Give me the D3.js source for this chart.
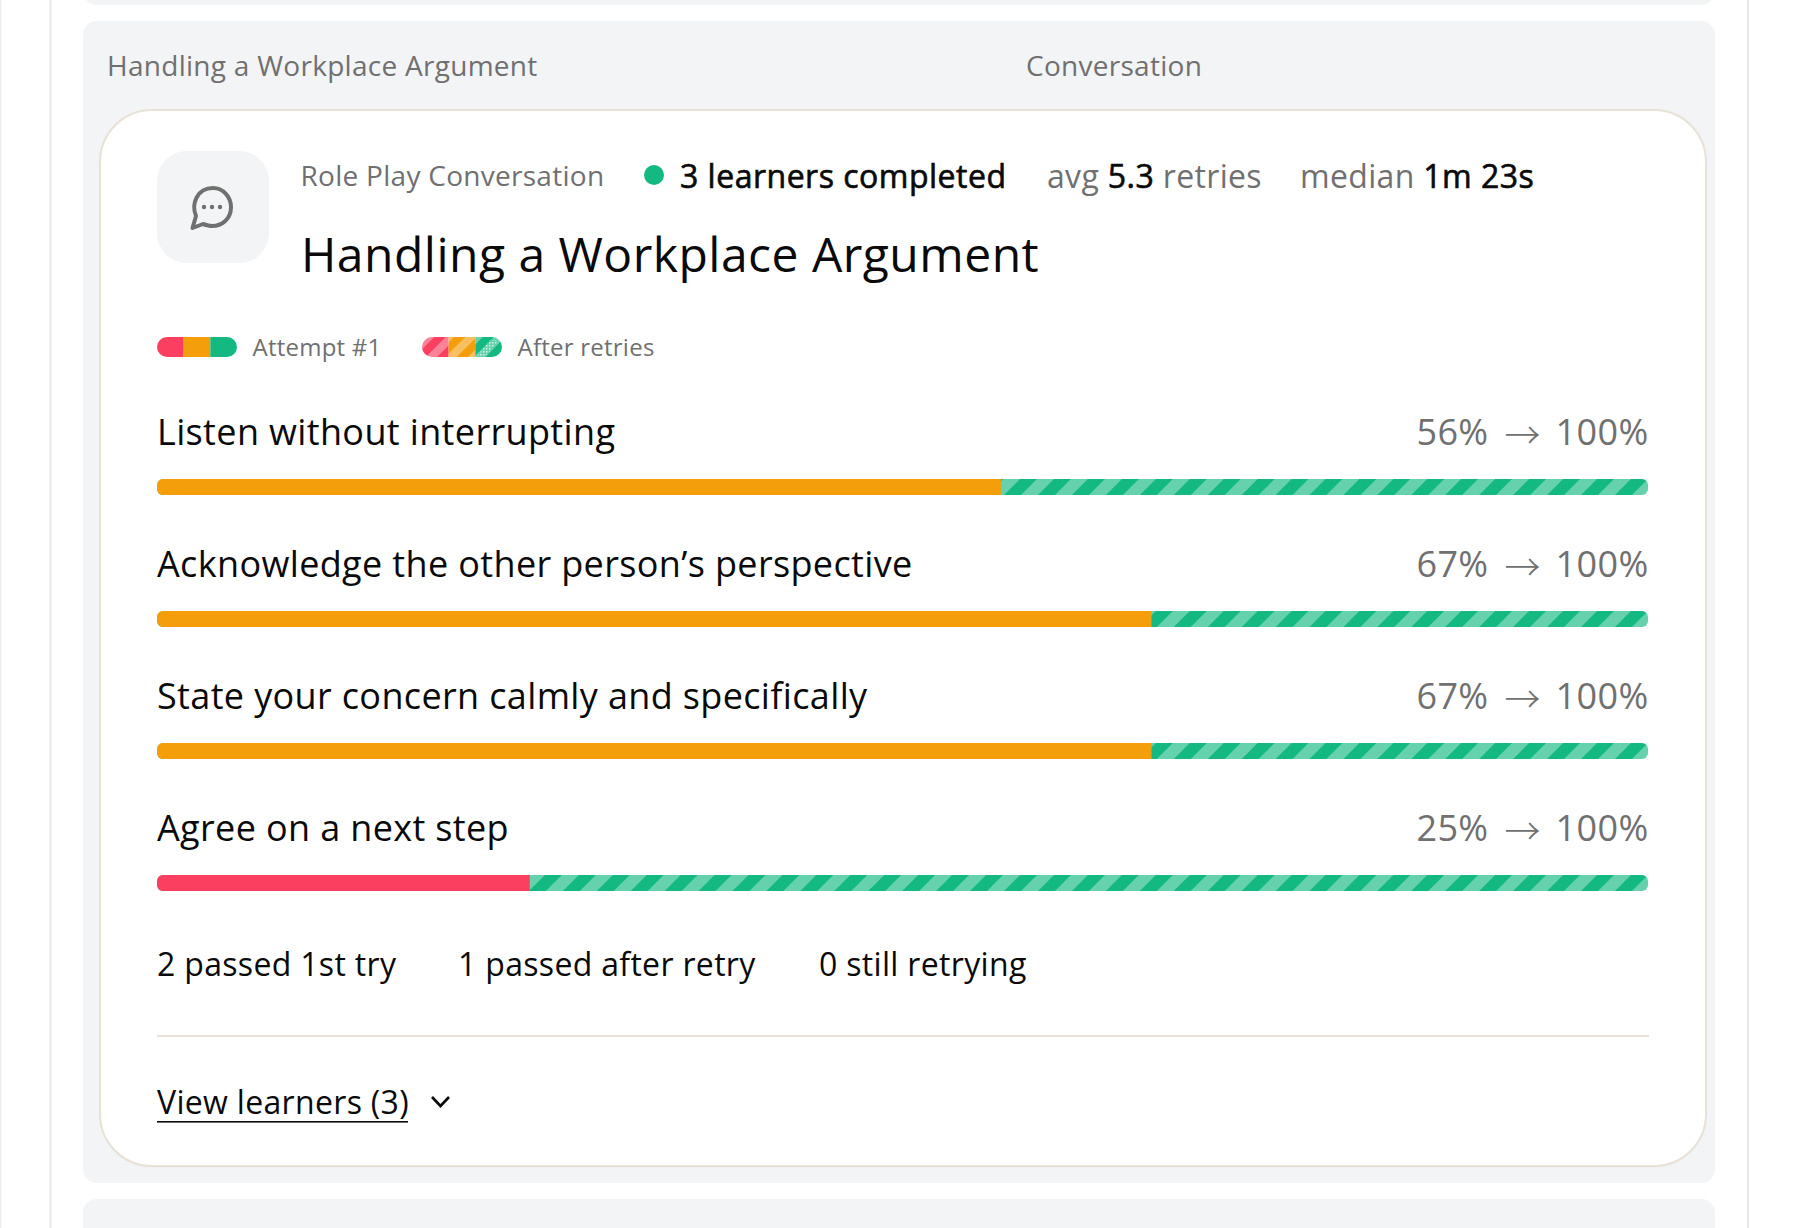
<!DOCTYPE html>
<html><head><meta charset="utf-8">
<script src="https://cdn.jsdelivr.net/npm/d3@7"></script>
<style>html,body{margin:0;padding:0;background:#fff;overflow:hidden}svg{display:block}text{font-family:"Open Sans",sans-serif;letter-spacing:.01em}.m{stroke:#0a0a0a;stroke-width:.65px;fill:#0a0a0a;letter-spacing:.5px}</style>
</head><body><div id="c"></div>
<script>
const skills=["Listen without interrupting","Acknowledge the other person’s perspective","State your concern calmly and specifically","Agree on a next step"];
const firstAttempt=[56.6,66.7,66.7,25];
const firstLabels=["56%","67%","67%","25%"];
const afterRetries=[100,100,100,100];
const afterLabels=["100%","100%","100%","100%"];
const bands=["mid","mid","mid","fail"];
const legendParts=["fail","mid","pass"];
const legendPhase=[15,8,10];
const footer=["2 passed 1st try","1 passed after retry","0 still retrying"];
const palette={fail:"#fa3f60",mid:"#f59e0b",pass:"#14b981"};
const W=1798,H=1228;
const svg=d3.select("#c").append("svg").attr("width",W).attr("height",H);
const defs=svg.append("defs");
function stripe(id,c,band,x0,y0){const period=band*2;const p=defs.append("pattern").attr("id",id).attr("patternUnits","userSpaceOnUse")
 .attr("width",period).attr("height",period).attr("patternTransform",`translate(${x0},${y0}) rotate(45)`);
 p.append("rect").attr("width",period).attr("height",period).attr("fill",c);
 p.append("rect").attr("x",band).attr("width",band).attr("height",period).attr("fill","#fff").attr("fill-opacity",.35);}
const grey="#707070",ink="#0a0a0a",panel="#f3f4f6",line="#e8e1d6";
// page
svg.append("rect").attr("x",0).attr("y",0).attr("width",1.5).attr("height",H).attr("fill","#eeeeee");
svg.append("rect").attr("x",49.5).attr("y",0).attr("width",2).attr("height",H).attr("fill","#e8e8e8");
svg.append("rect").attr("x",1747).attr("y",0).attr("width",2).attr("height",H).attr("fill","#e8e8e8");
svg.append("rect").attr("x",83).attr("y",-40).attr("width",1632).attr("height",45).attr("rx",14).attr("fill",panel);
svg.append("rect").attr("x",83).attr("y",21).attr("width",1632).attr("height",1162).attr("rx",14).attr("fill",panel);
svg.append("rect").attr("x",83).attr("y",1199).attr("width",1632).attr("height",60).attr("rx",14).attr("fill",panel);
const T=(x,y,s,size,fill,weight,anchor)=>svg.append("text").attr("x",x).attr("y",y).attr("font-size",size).attr("fill",fill).attr("font-weight",weight||400).attr("text-anchor",anchor||"start").text(s);
T(107,76,"Handling a Workplace Argument",28,grey);
T(1026,76,"Conversation",28,grey);
// card
svg.append("rect").attr("x",100).attr("y",112).attr("width",1606).attr("height",1056).attr("rx",52).attr("fill","#eceef0").attr("opacity",.8);
svg.append("rect").attr("x",100).attr("y",110).attr("width",1606).attr("height",1056).attr("rx",52).attr("fill","#fff").attr("stroke",line).attr("stroke-width",2);
// icon
svg.append("rect").attr("x",157).attr("y",151).attr("width",112).attr("height",112).attr("rx",30).attr("fill",panel);
const ic=svg.append("g").attr("transform","translate(211,208)").attr("fill","none").attr("stroke",grey).attr("stroke-width",4).attr("stroke-linejoin","round").attr("stroke-linecap","round");
ic.append("path").attr("d","M-18.5,20 L-15,8 C-20,-4 -14,-20 2,-20 C13,-20 20,-10 20,-1 C20,11 11,18 1,18 C-2,18 -5,17 -8,16 Z");
[-8,0,8].forEach(dx=>svg.append("circle").attr("cx",212+dx).attr("cy",207).attr("r",2.2).attr("fill",grey));
// header meta
T(300.5,186,"Role Play Conversation",28,grey);
svg.append("circle").attr("cx",654).attr("cy",175).attr("r",10).attr("fill",palette.pass);
T(680,188,"3 learners completed",32,ink).attr("class","m");
const avg=T(1047,188,"",32,grey);avg.append("tspan").text("avg ");avg.append("tspan").attr("class","m").text("5.3");avg.append("tspan").text(" retries");
const med=T(1300,188,"",32,grey);med.append("tspan").text("median ");med.append("tspan").attr("class","m").text("1m 23s");
T(301,272,"Handling a Workplace Argument",48,ink);
// legend
defs.append("clipPath").attr("id","lg1").append("rect").attr("x",157).attr("y",337).attr("width",80).attr("height",20).attr("rx",10);
defs.append("clipPath").attr("id","lg2").append("rect").attr("x",422).attr("y",337).attr("width",80).attr("height",20).attr("rx",10);
const lx1=d3.scaleBand().domain(legendParts).range([157,237]);
const lx2=d3.scaleBand().domain(legendParts).range([422,502]);
legendParts.forEach((k,i)=>stripe("leg-"+k,palette[k],8,lx2(k)+legendPhase[i],357));
svg.append("g").attr("clip-path","url(#lg1)").selectAll("rect").data(legendParts).join("rect").attr("x",d=>lx1(d)).attr("y",337).attr("width",lx1.bandwidth()).attr("height",20).attr("fill",d=>palette[d]);
svg.append("g").attr("clip-path","url(#lg2)").selectAll("rect").data(legendParts).join("rect").attr("x",d=>lx2(d)).attr("y",337).attr("width",lx2.bandwidth()).attr("height",20).attr("fill",d=>`url(#leg-${d})`);
const dots=defs.append("pattern").attr("id","dots").attr("patternUnits","userSpaceOnUse").attr("width",3).attr("height",3);
dots.append("rect").attr("width",1.5).attr("height",1.5).attr("fill","#d4f1e5");
svg.append("path").attr("clip-path","url(#lg2)").attr("d","M476,357 L485,357 L499,340 L490,340 Z").attr("fill","url(#dots)");
T(252.5,356,"Attempt #1",24,grey);
T(517.5,356,"After retries",24,grey);
// rows
const x=d3.scaleLinear().domain([0,100]).range([157,1648]);
const y=d3.scalePoint().domain(skills).range([479,875]);
const barH=16;
skills.forEach((s,i)=>{
 const top=y(s),base=top-34;
 stripe("st"+i,palette.pass,12,x(0)-1.5,top+barH);
 defs.append("clipPath").attr("id","b"+i).append("rect").attr("x",x(0)).attr("y",top).attr("width",x(afterRetries[i])-x(0)).attr("height",barH).attr("rx",6);
 T(157,base,s,36,ink);
 const g=svg.append("g").attr("clip-path",`url(#b${i})`);
 g.append("rect").attr("x",x(0)).attr("y",top).attr("width",x(afterRetries[i])-x(0)).attr("height",barH).attr("fill",`url(#st${i})`);
 g.append("rect").attr("x",x(0)).attr("y",top).attr("width",x(firstAttempt[i])-x(0)).attr("height",barH).attr("fill",palette[bands[i]]);
 T(1488.5,base,firstLabels[i],36,grey,400,"end");
 T(1522.5,base+4,"→",36,grey,300,"middle").style("font-family","'Noto Sans CJK SC'").style("letter-spacing","0");
 T(1648.5,base,afterLabels[i],36,grey,400,"end");
});
// footer
[157,458,819].forEach((px,i)=>T(px,976,footer[i],32,ink));
svg.append("rect").attr("x",157).attr("y",1035).attr("width",1492).attr("height",2).attr("fill",line);
T(157,1114,"View learners (3)",32,ink);
svg.append("rect").attr("x",157).attr("y",1121).attr("width",251).attr("height",1.6).attr("fill",ink);
svg.append("path").attr("d","M432,1097 L440.5,1106 L449,1097").attr("fill","none").attr("stroke",ink).attr("stroke-width",2.6);
</script></body></html>
